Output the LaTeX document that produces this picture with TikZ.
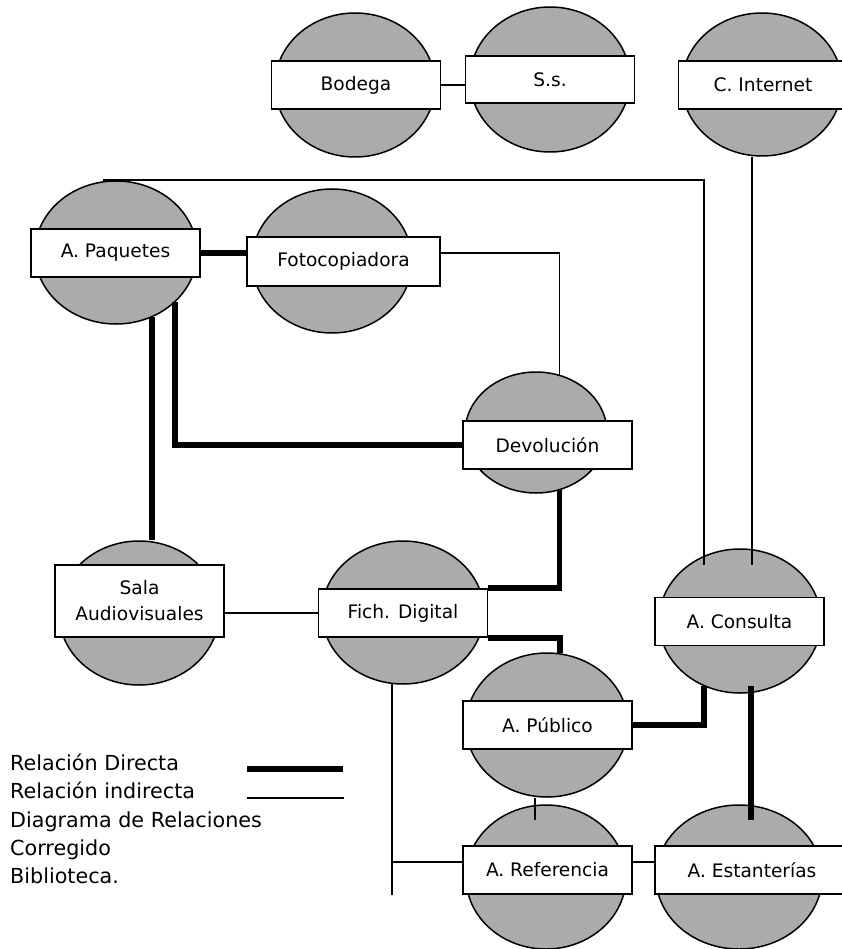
\documentclass[tikz,border=0pt]{standalone}
\usepackage{fontspec}
\setmainfont{DejaVu Sans}
\usetikzlibrary{positioning,shapes.geometric}
\definecolor{ovalgray}{HTML}{ABABAB}
\newcommand{\roomfont}{\fontsize{18.6}{26}\selectfont}
\newcommand{\legendfont}{\fontsize{20.7}{24}\selectfont}

\begin{document}
\begin{tikzpicture}[x=1pt,y=-1pt,
  oval/.style={ellipse,draw,line width=1.5pt,fill=ovalgray,inner sep=0pt,minimum width=160pt,minimum height=144pt},
  room/.style={draw,line width=1.8pt,fill=white,inner sep=0pt,minimum width=169pt,minimum height=48pt,align=center,font=\roomfont},
  direct/.style={line width=5.7pt},
  indirect/.style={line width=1.7pt},
  legend/.style={anchor=base west,inner sep=0pt,font=\legendfont}
]
\useasboundingbox (0,0) rectangle (841,949);
% ovals
\node[oval] (bodE) at (355,85) {};
\node[oval,minimum height=145pt] (ssE) at (550,79.5) {};
\node[oval,minimum height=143pt] (intE) at (762,84.5) {};
\node[oval,minimum width=162pt,minimum height=143pt] (paqE) at (116,252.5) {};
\node[oval] (fotoE) at (332,261) {};
\node[oval,minimum width=142pt,minimum height=121pt] (devE) at (536,432.5) {};
\node[oval] (salaE) at (139,613) {};
\node[oval,minimum width=162pt,minimum height=143pt] (fichE) at (403,612.5) {};
\node[oval,minimum width=162pt] (consE) at (740,621) {};
\node[oval,minimum width=162pt] (pubE) at (547,725) {};
\node[oval] (refE) at (546,877) {};
\node[oval,minimum width=166pt] (estE) at (739,877) {};
% rooms
\node[room] (bodR) at (356,85) {Bodega};
\node[room,minimum height=47pt] (ssR) at (550,79.5) {S.s.};
\node[room] (intR) at (763,85) {C. Internet};
\node[room] (paqR) at (115.5,253) {A. Paquetes};
\node[room,minimum width=193pt,minimum height=49pt] (fotoR) at (343.5,261.5) {Fotocopiadora};
\node[room] (devR) at (547.5,445) {Devolución};
\node[room,minimum height=72pt] (salaR) at (139.5,601) {Sala\\Audiovisuales};
\node[room] (fichR) at (403,613) {Fich. Digital};
\node[room] (consR) at (739.5,621.5) {A. Consulta};
\node[room] (pubR) at (547.5,725) {A. Público};
\node[room] (refR) at (547.5,870) {A. Referencia};
\node[room,minimum width=194pt] (estR) at (752,870) {A. Estanterías};
% relations
\draw[indirect] (bodR.east) -- (bodR.east -| ssR.west);
\draw[indirect] ([xshift=-13pt]paqE.north) -| ([xshift=-36pt,yshift=56pt]consE.center);
\draw[indirect] ([xshift=-10pt]intE.south) -- ([xshift=12pt,yshift=56pt]consE.center);
\draw[indirect] ([yshift=8.5pt]fotoR.east) -| (devE.68);
\draw[direct] (paqR.east) -- (paqR.east -| fotoR.west);
\draw[direct] (paqE.-61) -- (paqE.-61 |- salaE.north);
\draw[direct] (paqE.-40) |- (devR.west);
\draw[direct] (devE.-68) |- (fichR.north east);
\draw[direct] (fichR.south east) -| (pubE.80);
\draw[indirect] (fichR.west) -- (fichR.west -| salaR.east);
\draw[direct] (pubR.east) -| (consE.-119);
\draw[direct] ([xshift=11pt,yshift=8pt]consE.south) -- ([xshift=12pt,yshift=-16pt]estE.north);
\draw[indirect] ([xshift=-12pt]pubE.south) -- ([xshift=-11pt,yshift=-16pt]refE.north);
\coordinate (refIn) at ([yshift=8pt]refR.west);
\coordinate (refOut) at ([yshift=8pt]refR.east);
\draw[indirect] (fichE.-99) -- (fichE.-99 |- refR.south);
\draw[indirect] (refIn -| fichE.-99) -- (refIn);
\draw[indirect] (refOut) -- (refOut -| estR.west);
% legend
\node[legend] (leg1) at (10,770) {Relación Directa};
\node[legend] (leg2) at (10,798) {Relación indirecta};
\node[legend] (leg3) at (10,827) {Diagrama de Relaciones};
\node[legend] (leg4) at (10,855) {Corregido};
\node[legend] (leg5) at (10,883) {Biblioteca.};
\draw[direct] (247,769) -- (343,769);
\draw[indirect] (247,798) -- (344,798);
\end{tikzpicture}
\end{document}
